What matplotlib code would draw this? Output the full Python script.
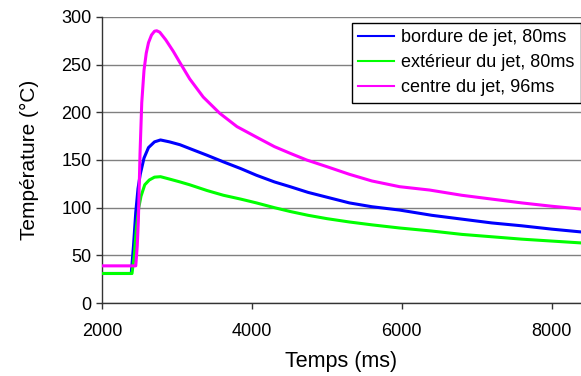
import matplotlib
matplotlib.use("Agg")
import matplotlib.pyplot as plt

plt.rcParams['font.family'] = ['Liberation Sans', 'DejaVu Sans']

# bordure de jet, 80ms
t_bord = [2000, 2390, 2420, 2450, 2480, 2510, 2560, 2620, 2700, 2780, 2900, 3040, 3170, 3400,
          3620, 3850, 4060, 4300, 4510, 4750, 5000, 5300, 5600, 5970, 6400, 6800, 7200, 7600,
          8000, 8400]
T_bord = [31, 31, 60, 95, 120, 135, 152, 163, 169, 171, 169, 166, 162, 155,
          148, 141, 134, 127, 122, 116, 111, 105, 101, 97.5, 92, 88, 84, 81,
          77.5, 74.5]

# extérieur du jet, 80ms
t_ext = [2000, 2400, 2430, 2460, 2490, 2520, 2570, 2630, 2700, 2780, 2900, 3040, 3170, 3400,
         3620, 3850, 4060, 4300, 4510, 4750, 5000, 5300, 5600, 5970, 6400, 6800, 7200, 7600,
         8000, 8400]
T_ext = [31, 31, 50, 80, 100, 112, 124, 129, 132, 132.5, 130, 127, 124, 118,
         113, 109, 105, 100, 96, 92, 88.5, 85, 82, 78.7, 75.5, 72, 69.5, 67,
         65, 63]

# centre du jet, 96ms
t_centre = [2000, 2450, 2470, 2485, 2507, 2530, 2560, 2590, 2620, 2660, 2700, 2730, 2770, 2850,
            2950, 3040, 3170, 3350, 3570, 3800, 4060, 4300, 4510, 4730, 5000, 5300, 5600, 5970,
            6370, 6800, 7200, 7600, 8000, 8400]
T_centre = [39, 39, 60, 87, 157, 210, 244, 262, 273, 281, 285, 285.5, 284, 276,
            264, 252, 235, 216, 199, 185, 174, 164, 157, 150, 143, 135, 128, 122,
            118.5, 113, 109, 105, 101.5, 98.5]

labels = ['bordure de jet, 80ms', 'extérieur du jet, 80ms', 'centre du jet, 96ms']
colors = ['#0000ff', '#00ff00', '#ff00ff']

fig = plt.figure(figsize=(5.81, 3.76), dpi=100)
ax = fig.add_axes([0.1756, 0.194, 0.8244, 0.761])

ax.plot(t_bord, T_bord, color=colors[0], lw=2.2, label=labels[0], zorder=3)
ax.plot(t_ext, T_ext, color=colors[1], lw=2.2, label=labels[1], zorder=3)
ax.plot(t_centre, T_centre, color=colors[2], lw=2.2, label=labels[2], zorder=3)

ax.set_xlim(2000, 8390)
ax.set_ylim(0, 300)
ax.set_xticks([2000, 4000, 6000, 8000])
ax.set_yticks(range(0, 301, 50))
ax.yaxis.grid(True, color='#808080', lw=1.0)
ax.set_axisbelow(True)
for s in ['top', 'right']:
    ax.spines[s].set_visible(False)
for s in ['left', 'bottom']:
    ax.spines[s].set_color('#333333')
    ax.spines[s].set_linewidth(1.0)
ax.tick_params(direction='out', length=4, width=1, color='#333333', labelsize=13)
ax.tick_params(axis='x', pad=10)

ax.set_xlabel('Temps (ms)', fontsize=15.5, labelpad=8)
ax.set_ylabel('Température (°C)', fontsize=15, labelpad=16)

leg = ax.legend(loc='upper right', bbox_to_anchor=(1.0, 0.98), fontsize=13, frameon=True,
                fancybox=False, edgecolor='black', framealpha=1, borderpad=0.35,
                labelspacing=0.45, handlelength=2.0, handletextpad=0.4, borderaxespad=0)
leg.get_frame().set_linewidth(1.0)
for h in leg.get_lines():
    h.set_linewidth(1.5)

fig.savefig('out.png', dpi=100)
